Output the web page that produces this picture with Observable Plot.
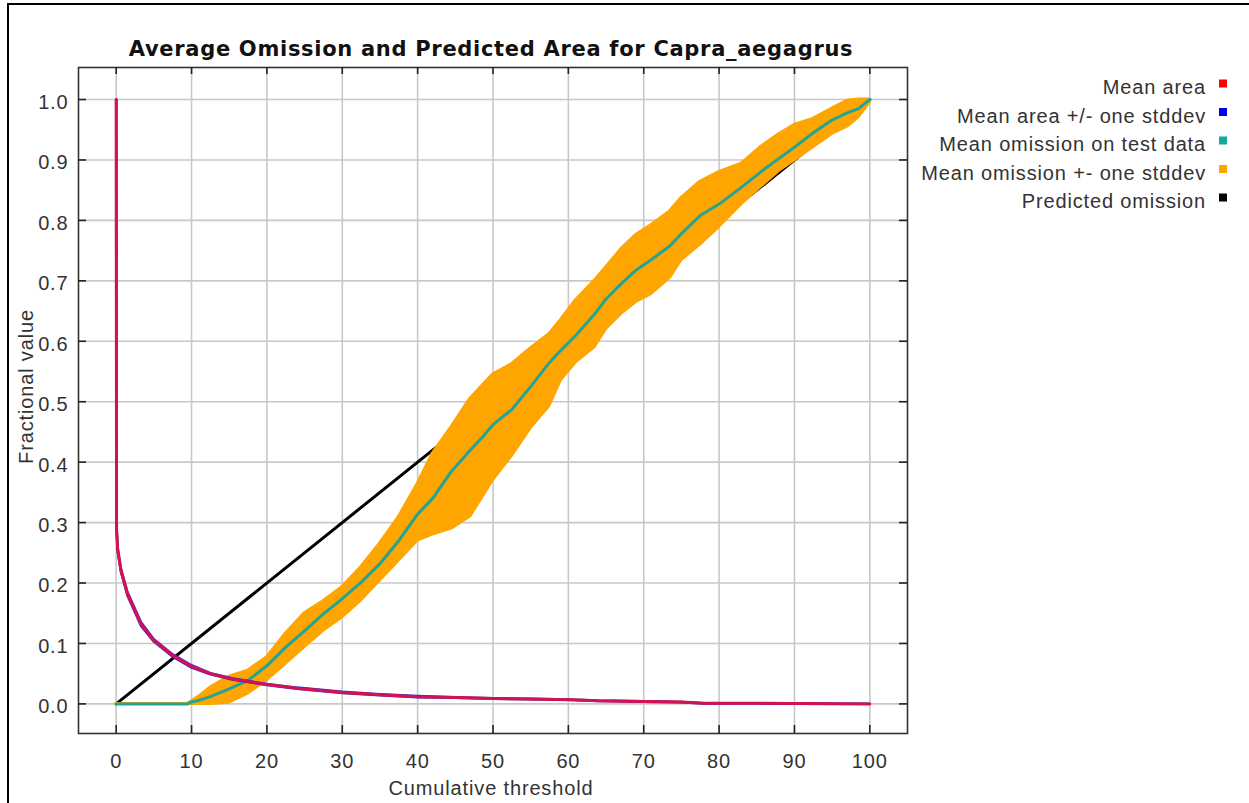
<!DOCTYPE html>
<html>
<head>
<meta charset="utf-8">
<script src="https://cdn.jsdelivr.net/npm/d3@7"></script>
<script src="https://cdn.jsdelivr.net/npm/@observablehq/plot@0.6"></script>
<style>
  body { margin: 0; background: #fff; }
  #wrap { position: relative; width: 1249px; height: 803px; overflow: hidden; background: #fff; }
  #border { position: absolute; left: 7px; top: 3px; width: 1300px; height: 900px; border-left: 2.5px solid #000; border-top: 2.5px solid #000; }
  #chart { position: absolute; left: 0; top: 0; }
  #overlay { position: absolute; left: 0; top: 0; }
</style>
</head>
<body>
<div id="wrap">
  <div id="border"></div>
  <div id="chart"></div>
  <svg id="overlay" width="1249" height="803"></svg>
</div>
<script>
// ---------- data ----------
const titleText = "Average Omission and Predicted Area for Capra_aegagrus";
const xLabel = "Cumulative threshold";
const yLabel = "Fractional value";

const xTicks = [0, 10, 20, 30, 40, 50, 60, 70, 80, 90, 100];
const yTicks = [0, 0.1, 0.2, 0.3, 0.4, 0.5, 0.6, 0.7, 0.8, 0.9, 1.0];

const legendLabels = ["Mean area", "Mean area +/- one stddev", "Mean omission on test data", "Mean omission +- one stddev", "Predicted omission"];
const legendColors = ["#ff0000", "#0000ff", "#14a8a0", "#ffa500", "#000000"];

// mean omission on test data and +/- one stddev band
const omX    = [0, 9.5, 10, 11, 12.5, 15, 17.5, 20, 22.5, 25, 27.5, 30, 32.5, 35, 37.5, 40, 42, 44.5, 47, 48.5, 50, 52.5, 55, 57.5, 59, 61, 63.5, 65, 67, 69, 71, 73.5, 75, 77.5, 80, 83, 85.5, 88, 90, 92.5, 95, 97, 98.5, 100];
const omMean = [0, 0, 0.003, 0.006, 0.012, 0.025, 0.039, 0.063, 0.094, 0.121, 0.149, 0.174, 0.201, 0.232, 0.27, 0.314, 0.34, 0.385, 0.42, 0.44, 0.462, 0.487, 0.525, 0.565, 0.585, 0.61, 0.645, 0.67, 0.695, 0.718, 0.735, 0.758, 0.778, 0.808, 0.827, 0.855, 0.88, 0.903, 0.921, 0.945, 0.966, 0.978, 0.985, 1.0];
const omHi   = [0, 0, 0.004, 0.012, 0.027, 0.045, 0.055, 0.077, 0.116, 0.15, 0.17, 0.193, 0.226, 0.265, 0.309, 0.364, 0.414, 0.458, 0.505, 0.525, 0.545, 0.562, 0.588, 0.612, 0.635, 0.668, 0.70, 0.722, 0.752, 0.776, 0.792, 0.815, 0.837, 0.864, 0.88, 0.894, 0.921, 0.943, 0.958, 0.968, 0.985, 0.998, 1.0, 1.0];
const omLo   = [0, 0, 0, 0, 0, 0.002, 0.017, 0.039, 0.066, 0.094, 0.121, 0.143, 0.171, 0.204, 0.237, 0.27, 0.28, 0.29, 0.31, 0.34, 0.37, 0.41, 0.456, 0.493, 0.535, 0.565, 0.59, 0.62, 0.645, 0.665, 0.678, 0.705, 0.734, 0.76, 0.789, 0.827, 0.855, 0.882, 0.899, 0.921, 0.943, 0.955, 0.97, 0.995];

// mean predicted area and +/- one stddev
const areaX    = [0, 0.05, 0.2, 0.65, 1.5, 3.3, 5, 7.5, 10, 12.5, 15.5, 20, 24, 30, 35, 40, 45, 50, 55, 60, 64, 70, 75, 78, 85, 90, 100];
const areaMean = [1.0, 0.29, 0.255, 0.22, 0.182, 0.132, 0.105, 0.08, 0.062, 0.05, 0.041, 0.032, 0.026, 0.019, 0.015, 0.012, 0.0105, 0.009, 0.008, 0.007, 0.005, 0.004, 0.003, 0.001, 0.001, 0.0005, 0];
const areaHi   = [1.0, 0.293, 0.258, 0.223, 0.185, 0.135, 0.107, 0.082, 0.064, 0.051, 0.042, 0.033, 0.027, 0.020, 0.016, 0.013, 0.011, 0.0095, 0.0085, 0.0073, 0.0055, 0.0045, 0.0033, 0.0013, 0.0012, 0.0006, 0];
const areaLo   = [1.0, 0.287, 0.252, 0.217, 0.179, 0.129, 0.103, 0.078, 0.060, 0.049, 0.040, 0.031, 0.025, 0.018, 0.014, 0.011, 0.010, 0.0085, 0.0075, 0.0067, 0.0045, 0.0035, 0.0027, 0.0007, 0.0008, 0.0004, 0];

// predicted omission
const predX = [0, 100];
const predY = [0, 1];

// ---------- build tables ----------
const omission = omX.map((x, i) => ({x, mean: omMean[i], lo: omLo[i], hi: omHi[i]}));
const area = areaX.map((x, i) => ({x, mean: areaMean[i], lo: areaLo[i], hi: areaHi[i]}));
const pred = predX.map((x, i) => ({x, y: predY[i]}));

const W = 1249, H = 803, ML = 78, MR = 342, MT = 67, MB = 70;
const innerW = W - ML - MR, innerH = H - MT - MB;
const gridStyle = {stroke: "#c8c8c8", strokeOpacity: 1, strokeWidth: 1.6};
const tickStyle = {stroke: "#222", strokeWidth: 1.6};

const chart = Plot.plot({
  width: W, height: H,
  marginLeft: ML, marginRight: MR, marginTop: MT, marginBottom: MB,
  style: {fontFamily: "'Liberation Sans', Arial, sans-serif", fontSize: "20px", letterSpacing: "0.85px", color: "#333", background: "transparent", overflow: "visible"},
  x: {domain: [-5, 105]},
  y: {domain: [-0.049, 1.053]},
  marks: [
    Plot.gridX(xTicks, gridStyle),
    Plot.gridY(yTicks, gridStyle),
    Plot.line(pred, {x: "x", y: "y", stroke: "#000", strokeWidth: 3}),
    Plot.areaY(omission, {x: "x", y1: "lo", y2: "hi", fill: "#ffa500", stroke: "#ffa500", strokeWidth: 3, strokeLinejoin: "round"}),
    Plot.line(omission, {x: "x", y: "mean", stroke: "#22a596", strokeWidth: 3}),
    Plot.line(area, {x: "x", y: "hi", stroke: "#3a2ad0", strokeWidth: 2.4}),
    Plot.line(area, {x: "x", y: "lo", stroke: "#3a2ad0", strokeWidth: 2.4}),
    Plot.line(area, {x: "x", y: "mean", stroke: "#d4124e", strokeWidth: 3}),
    Plot.frame({stroke: "#333", strokeWidth: 1.6}),
    Plot.tickX(xTicks, {x: d => d, insetTop: innerH - 8, ...tickStyle}),
    Plot.tickX(xTicks, {x: d => d, insetBottom: innerH - 7, ...tickStyle}),
    Plot.tickY(yTicks, {y: d => d, insetRight: innerW - 8, ...tickStyle}),
    Plot.tickY(yTicks, {y: d => d, insetLeft: innerW - 8, ...tickStyle}),
    Plot.axisX({ticks: xTicks, tickSize: 0, tickPadding: 20, label: null, tickFormat: d3.format("d")}),
    Plot.axisY({ticks: yTicks, tickSize: 0, tickPadding: 10, label: null, tickFormat: d3.format(".1f"), dy: 3})
  ]
});
document.getElementById("chart").appendChild(chart);

// ---------- title, axis labels, legend ----------
const ov = d3.select("#overlay");
ov.append("text")
  .attr("x", 491).attr("y", 56).attr("text-anchor", "middle")
  .style("font-family", "'DejaVu Sans', sans-serif").style("font-weight", "bold")
  .style("font-size", "21px").style("letter-spacing", "0.7px").attr("fill", "#111")
  .text(titleText);

const labelFont = sel => sel.style("font-family", "'Liberation Sans', Arial, sans-serif")
  .style("font-size", "20px").style("letter-spacing", "0.85px").attr("fill", "#333");

ov.append("text").attr("x", 491).attr("y", 795).attr("text-anchor", "middle").call(labelFont).text(xLabel);
ov.append("text").attr("transform", "translate(33,386.5) rotate(-90)").attr("text-anchor", "middle").call(labelFont).text(yLabel);

const leg = ov.append("g");
legendLabels.forEach((lab, i) => {
  const by = 94 + i * 28.5;
  leg.append("text").attr("x", 1206).attr("y", by).attr("text-anchor", "end").call(labelFont).text(lab);
  leg.append("rect").attr("x", 1219).attr("y", by - 14.5).attr("width", 8).attr("height", 8).attr("fill", legendColors[i]);
});
</script>
</body>
</html>
